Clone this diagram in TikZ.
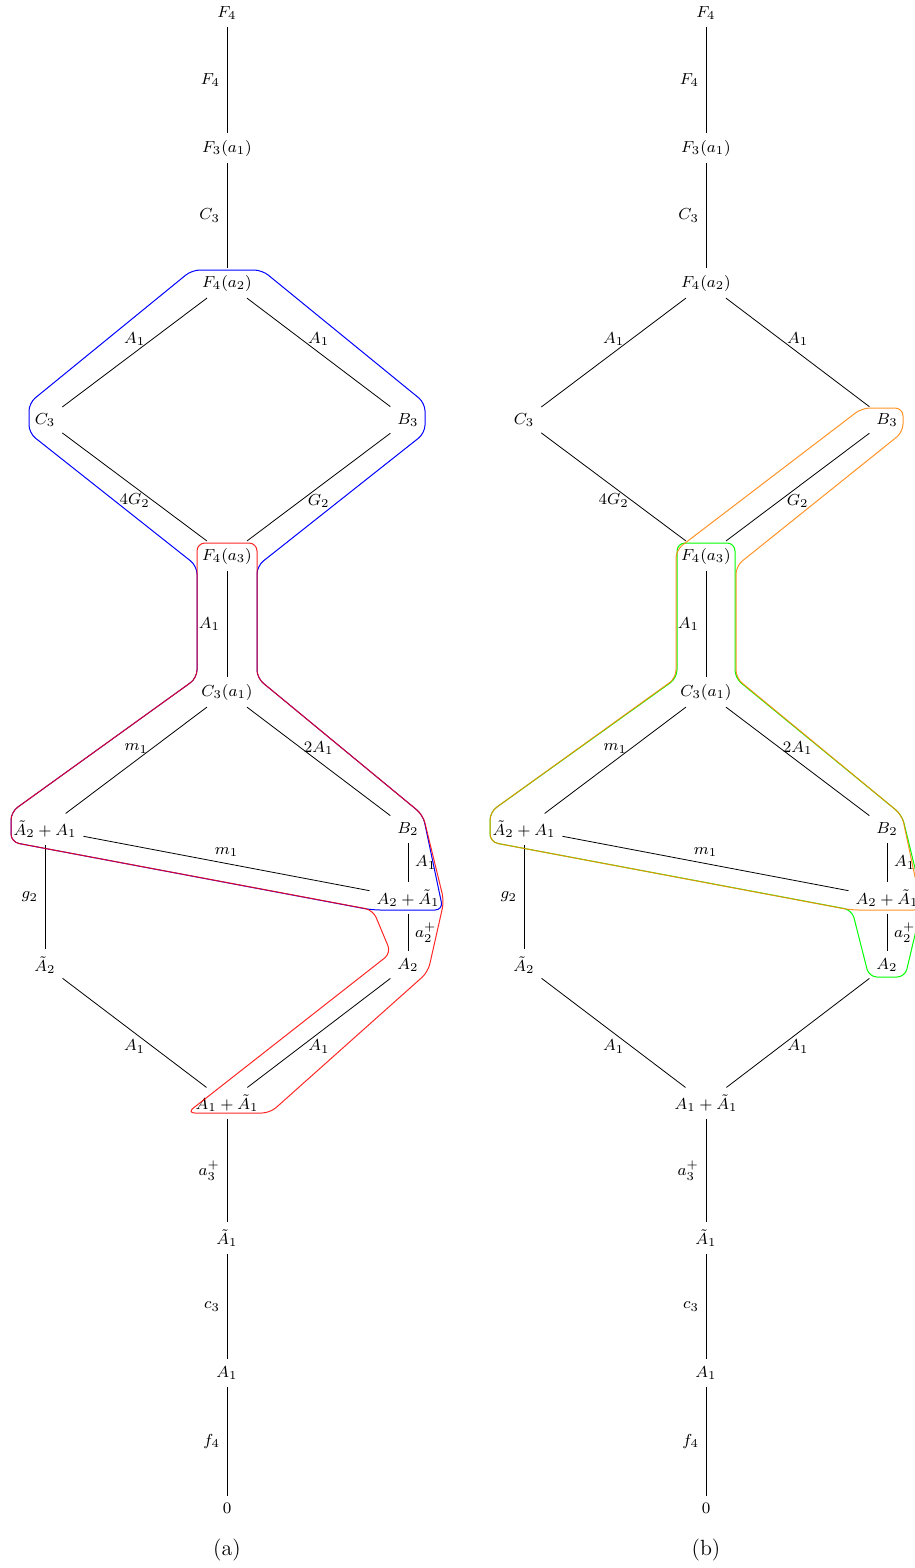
\documentclass[tikz,border=0pt]{standalone}
\begin{document}
\begin{tikzpicture}[x=0.5pt,y=-0.5pt,
  every node/.style={font=\footnotesize},
  caption/.style={font=\fontsize{11}{13}\selectfont},
  hull/.style={rounded corners=4pt, line width=0.5pt},
]
\useasboundingbox (0,0) rectangle (915,1568);
\clip (0,0) rectangle (915,1568);
\foreach \p/\s in {a/0,b/479}{
\begin{scope}[xshift=\s*0.5pt]
\node (\p-F4) at (227,13) {$F_4$};
\node (\p-F3a1) at (227,148) {$F_3(a_1)$};
\node (\p-F4a2) at (227,283) {$F_4(a_2)$};
\node (\p-C3) at (45,420) {$C_3$};
\node (\p-B3) at (408,420) {$B_3$};
\node (\p-F4a3) at (227,556) {$F_4(a_3)$};
\node (\p-C3a1) at (227,692) {$C_3(a_1)$};
\node (\p-tA2A1) at (45,829) {$\tilde{A}_2+A_1$};
\node (\p-B2) at (408,829) {$B_2$};
\node (\p-A2tA1) at (408,898) {$A_2+\tilde{A}_1$};
\node (\p-tA2) at (45,965) {$\tilde{A}_2$};
\node (\p-A2) at (408,965) {$A_2$};
\node (\p-A1tA1) at (227,1103) {$A_1+\tilde{A}_1$};
\node (\p-tA1) at (227,1238) {$\tilde{A}_1$};
\node (\p-A1) at (227,1373) {$A_1$};
\node (\p-zero) at (227,1508) {$0$};
\node[caption] (\p-cap) at (227,1550) {(\p)};
\draw (\p-F4) -- node[left] {$F_4$} (\p-F3a1);
\draw (\p-F3a1) -- node[left] {$C_3$} (\p-F4a2);
\draw (\p-F4a2) -- node[above] {$A_1$} (\p-C3);
\draw (\p-F4a2) -- node[above] {$A_1$} (\p-B3);
\draw (\p-C3) -- node[below] {$4G_2$} (\p-F4a3);
\draw (\p-B3) -- node[below] {$G_2$} (\p-F4a3);
\draw (\p-F4a3) -- node[left] {$A_1$} (\p-C3a1);
\draw (\p-C3a1) -- node[above] {$m_1$} (\p-tA2A1);
\draw (\p-C3a1) -- node[above] {$2A_1$} (\p-B2);
\draw (\p-tA2A1) -- node[above] {$m_1$} (\p-A2tA1);
\draw (\p-B2) -- node[right] {$A_1$} (\p-A2tA1);
\draw (\p-tA2A1) -- node[left] {$g_2$} (\p-tA2);
\draw (\p-A2tA1) -- node[right] {$a_2^+$} (\p-A2);
\draw (\p-tA2) -- node[below] {$A_1$} (\p-A1tA1);
\draw (\p-A2) -- node[below] {$A_1$} (\p-A1tA1);
\draw (\p-A1tA1) -- node[left] {$a_3^+$} (\p-tA1);
\draw (\p-tA1) -- node[left] {$c_3$} (\p-A1);
\draw (\p-A1) -- node[left] {$f_4$} (\p-zero);
\end{scope}
}
% (a) hulls
\draw[hull, blue] (227,270) -- (262,270) -- (425,403) -- (425,433) -- (257,566) -- (257,678) -- (423,815) -- (443,910) -- (372,910) -- (11,842) -- (11,812) -- (197,678) -- (197,566) -- (29,433) -- (29,403) -- (192,270) -- cycle;
\draw[hull, red, opacity=0.85] (227,543) -- (257,543) -- (257,678) -- (423,815) -- (444,901) -- (428,972) -- (270,1113) -- (187,1113) -- (391,953) -- (373,910) -- (11,842) -- (11,812) -- (197,678) -- (197,543) -- cycle;
% (b) hulls
\draw[hull, green] (706,543) -- (735,543) -- (735,678) -- (902,815) -- (923,901) -- (905,977) -- (869,977) -- (852,910) -- (490,842) -- (490,812) -- (677,678) -- (677,543) -- cycle;
\draw[hull, orange, opacity=0.85] (885,408) -- (903,408) -- (903,432) -- (736,566) -- (736,678) -- (902,815) -- (922,910) -- (851,910) -- (490,842) -- (490,812) -- (676,678) -- (676,550) -- (862,408) -- cycle;
\end{tikzpicture}
\end{document}
